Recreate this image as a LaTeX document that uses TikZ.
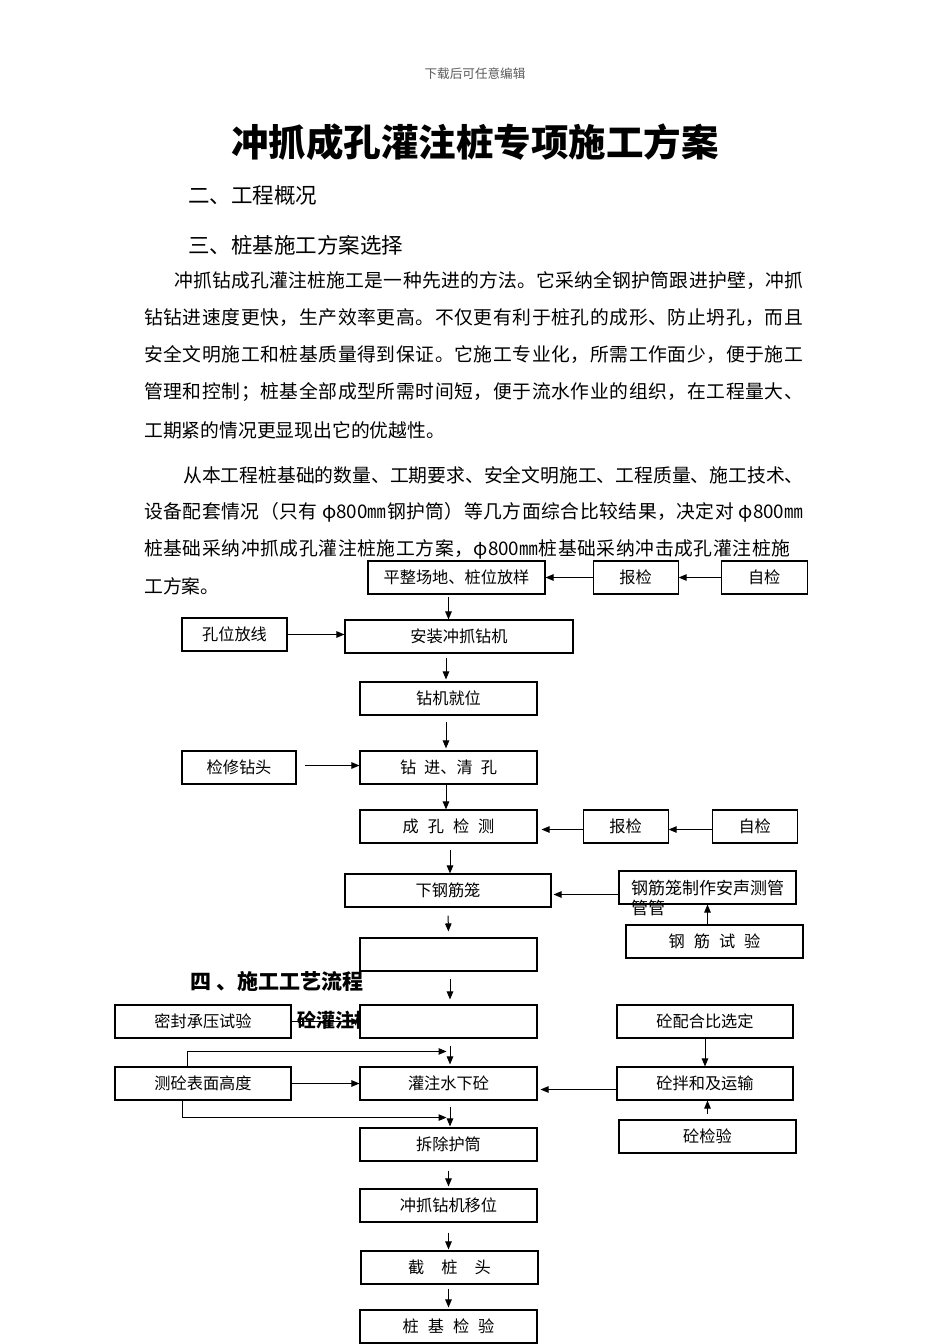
\documentclass[tikz,border=0pt]{standalone}
\usepackage{fontspec}
\setmainfont{Noto Sans CJK SC}
\usetikzlibrary{arrows.meta, positioning}

% spread one line of text over a given width
\makeatletter
\newcommand{\bodyline}[2]{\hbox to #1{\@tfor\bl@c:=#2\do{\bl@c\hfil}\unskip}}
\makeatother

\begin{document}
\begin{tikzpicture}[x=1pt, y=-1pt,
    box/.style={draw, line width=1.1pt, fill=white, inner sep=0pt, minimum width=177pt, minimum height=33pt, font=\fontsize{16.2}{18}\selectfont},
    arr/.style={-{Triangle[length=8pt,width=6.5pt]}, line width=1pt},
    body/.style={anchor=west, inner sep=0pt, font=\fontsize{18.8}{22}\selectfont},
    head/.style={anchor=west, inner sep=0pt, font=\fontsize{21.5}{24}\selectfont}]
    \useasboundingbox (0,0) rectangle (950,1344);

    % Page text
    \node[inner sep=0pt, text=black!65, font=\fontsize{12.6}{14}\selectfont] (hdr) at (475,74) {下载后可任意编辑};
    \node[inner sep=0pt, font=\bfseries\fontsize{37.5}{40}\selectfont] (title) at (475,142) {冲抓成孔灌注桩专项施工方案};
    \node[head] (sec2) at (188,195) {二、工程概况};
    \node[head] (sec3) at (188,245) {三、桩基施工方案选择};

    \node[body] (p1a) at (174,281) {\bodyline{629pt}{冲抓钻成孔灌注桩施工是一种先进的方法。它采纳全钢护筒跟进护壁，冲抓}};
    \node[body] (p1b) at (144,318) {\bodyline{659pt}{钻钻进速度更快，生产效率更高。不仅更有利于桩孔的成形、防止坍孔，而且}};
    \node[body] (p1c) at (144,355) {\bodyline{659pt}{安全文明施工和桩基质量得到保证。它施工专业化，所需工作面少，便于施工}};
    \node[body] (p1d) at (144,392) {\bodyline{659pt}{管理和控制；桩基全部成型所需时间短，便于流水作业的组织，在工程量大、}};
    \node[body] (p1e) at (144,430) {工期紧的情况更显现出它的优越性。};

    \node[body] (p2a) at (183,475) {\bodyline{620pt}{从本工程桩基础的数量、工期要求、安全文明施工、工程质量、施工技术、}};
    \node[body] (p2b) at (144,512) {\bodyline{659pt}{设备配套情况（只有{ φ800㎜}钢护筒）等几方面综合比较结果，决定对{ φ800㎜}}};
    \node[body] (p2c) at (144,549) {\bodyline{646pt}{桩基础采纳冲抓成孔灌注桩施工方案，{φ800㎜}桩基础采纳冲击成孔灌注桩施}};
    \node[body] (p2d) at (144,586) {工方案。};

    \node[head, font=\bfseries\fontsize{21}{24}\selectfont] (sec4) at (190,981) {四 、施工工艺流程};
    \node[body, font=\bfseries\fontsize{19}{22}\selectfont] (sub1) at (297,1020) {砼灌注桩};

    % Main steps
    \node[box] (pz) at (456.5,577.5) {平整场地、桩位放样};
    \node[box, minimum width=228pt] (az) at (459,636.5) {安装冲抓钻机};
    \node[box] (jw) at (448.5,698.5) {钻机就位};
    \node[box] (zj) at (448.5,767.5) {钻\hspace{8pt}进、清\hspace{8pt}孔};
    \node[box] (ck) at (448.5,826.5) {成\hspace{9pt}孔\hspace{9pt}检\hspace{9pt}测};
    \node[box, minimum width=206pt] (xg) at (448,890.5) {下钢筋笼};
    \node[box] (e1) at (448.5,954.5) {};
    \node[box] (e2) at (448.5,1021.5) {};
    \node[box] (gzs) at (448.5,1083.5) {灌注水下砼};
    \node[box] (cc) at (448.5,1144.5) {拆除护筒};
    \node[box] (yw) at (448.5,1205.5) {冲抓钻机移位};
    \node[box] (jt) at (449.5,1267.5) {截\hspace{17pt}桩\hspace{17pt}头};
    \node[box] (jc) at (448.5,1326.5) {桩\hspace{9pt}基\hspace{9pt}检\hspace{9pt}验};

    % Side steps
    \node[box, minimum width=85pt, right=47pt of pz] (bj1) {报检};
    \node[box, minimum width=86pt, right=42pt of bj1] (zj1) {自检};
    \node[box, minimum width=105pt] (kw) at (234.5,634.5) {孔位放线};
    \node[box, minimum width=114pt] (jx) at (239,767.5) {检修钻头\hspace{20pt}};
    \node[box, minimum width=85pt, right=45pt of ck] (bj2) {报检};
    \node[box, minimum width=85pt, right=43pt of bj2] (zj2) {自检};
    \node[box] (gz) at (707.5,887.5) {};
    \node[anchor=west, inner sep=0pt, align=left, font=\fontsize{17}{20}\selectfont] (gzt) at (631,898) {钢筋笼制作安声测管\\管管};
    \node[box] (gs) at (714.5,941.5) {钢\hspace{9pt}筋\hspace{9pt}试\hspace{9pt}验};
    \node[box, minimum width=176pt] (mf) at (203,1021.5) {密封承压试验};
    \node[box, minimum width=176pt] (cs) at (203,1083.5) {测砼表面高度};
    \node[box, minimum width=176pt] (pb) at (705,1021.5) {砼配合比选定};
    \node[box, minimum width=176pt] (bh) at (705,1083.5) {砼拌和及运输};
    \node[box] (jy) at (707.5,1136.5) {砼检验};

    % Connectors on the main line
    \draw[arr, shorten <=2pt] (pz.south -| jw) -- (az.north -| jw);
    \draw[arr, shorten <=4pt, shorten >=2pt] (az.south -| 446,0) -- (jw.north -| 446,0);
    \draw[arr, shorten <=6pt, shorten >=2pt] (jw.south -| 446,0) -- (zj.north -| 446,0);
    \draw[arr] (zj.south -| 446,0) -- (ck.north -| 446,0);
    \draw[arr, shorten <=6pt] (ck.south -| 450,0) -- (xg.north -| 450,0);
    \draw[arr, shorten <=8pt, shorten >=6pt] (xg.south) -- (e1.north);
    \draw[arr, shorten <=7pt, shorten >=5pt] (e1.south -| 450,0) -- (e2.north -| 450,0);
    \draw[arr, shorten <=7pt, shorten >=2pt] (e2.south -| 450,0) -- (gzs.north -| 450,0);
    \draw[arr, shorten <=6pt, shorten >=1pt] (gzs.south -| 450,0) -- (cc.north -| 450,0);
    \draw[arr, shorten <=9pt, shorten >=2pt] (cc.south) -- (yw.north);
    \draw[arr, shorten <=10pt, shorten >=1pt] (yw.south) -- (jt.north -| yw);
    \draw[arr, shorten <=4pt, shorten >=2pt] (jt.south -| jc) -- (jc.north);

    % Connectors from the sides
    \draw[arr] (bj1.west) -- (bj1.west -| pz.east);
    \draw[arr] (zj1.west) -- (zj1.west -| bj1.east);
    \draw[arr] (kw.east) -- (kw.east -| az.west);
    \draw[arr, shorten <=8pt] ([yshift=2pt]jx.east) -- ([yshift=2pt]jx.east -| zj.west);
    \draw[arr, shorten >=4pt] ([yshift=-3pt]bj2.west) -- ([yshift=-3pt]bj2.west -| ck.east);
    \draw[arr] ([yshift=-3pt]zj2.west) -- ([yshift=-3pt]zj2.west -| bj2.east);
    \draw[arr, shorten >=2pt] ([yshift=-7pt]gz.west) -- ([yshift=-7pt]gz.west -| xg.east);
    \draw[arr] (gs.north -| gz) -- (gz.south);
    \draw[arr] (mf.east) -- (mf.east -| e2.west);
    \coordinate (t1) at ([yshift=15pt]gzs.north);
    \coordinate (t2) at ([yshift=-17pt]gzs.south);
    \draw[arr, shorten >=2pt] ([xshift=-16pt]cs.north) |- (t1);
    \draw[arr, shorten >=2pt] ([xshift=-21pt]cs.south) |- (t2);
    \draw[arr] (cs.east) -- (cs.east -| gzs.west);
    \draw[arr] (pb.south) -- (bh.north);
    \draw[arr, shorten >=3pt] ([yshift=-6pt]bh.west) -- ([yshift=-6pt]bh.west -| gzs.east);
    \draw[arr, shorten <=5pt] (jy.north) -- (jy.north |- bh.south);
\end{tikzpicture}
\end{document}
